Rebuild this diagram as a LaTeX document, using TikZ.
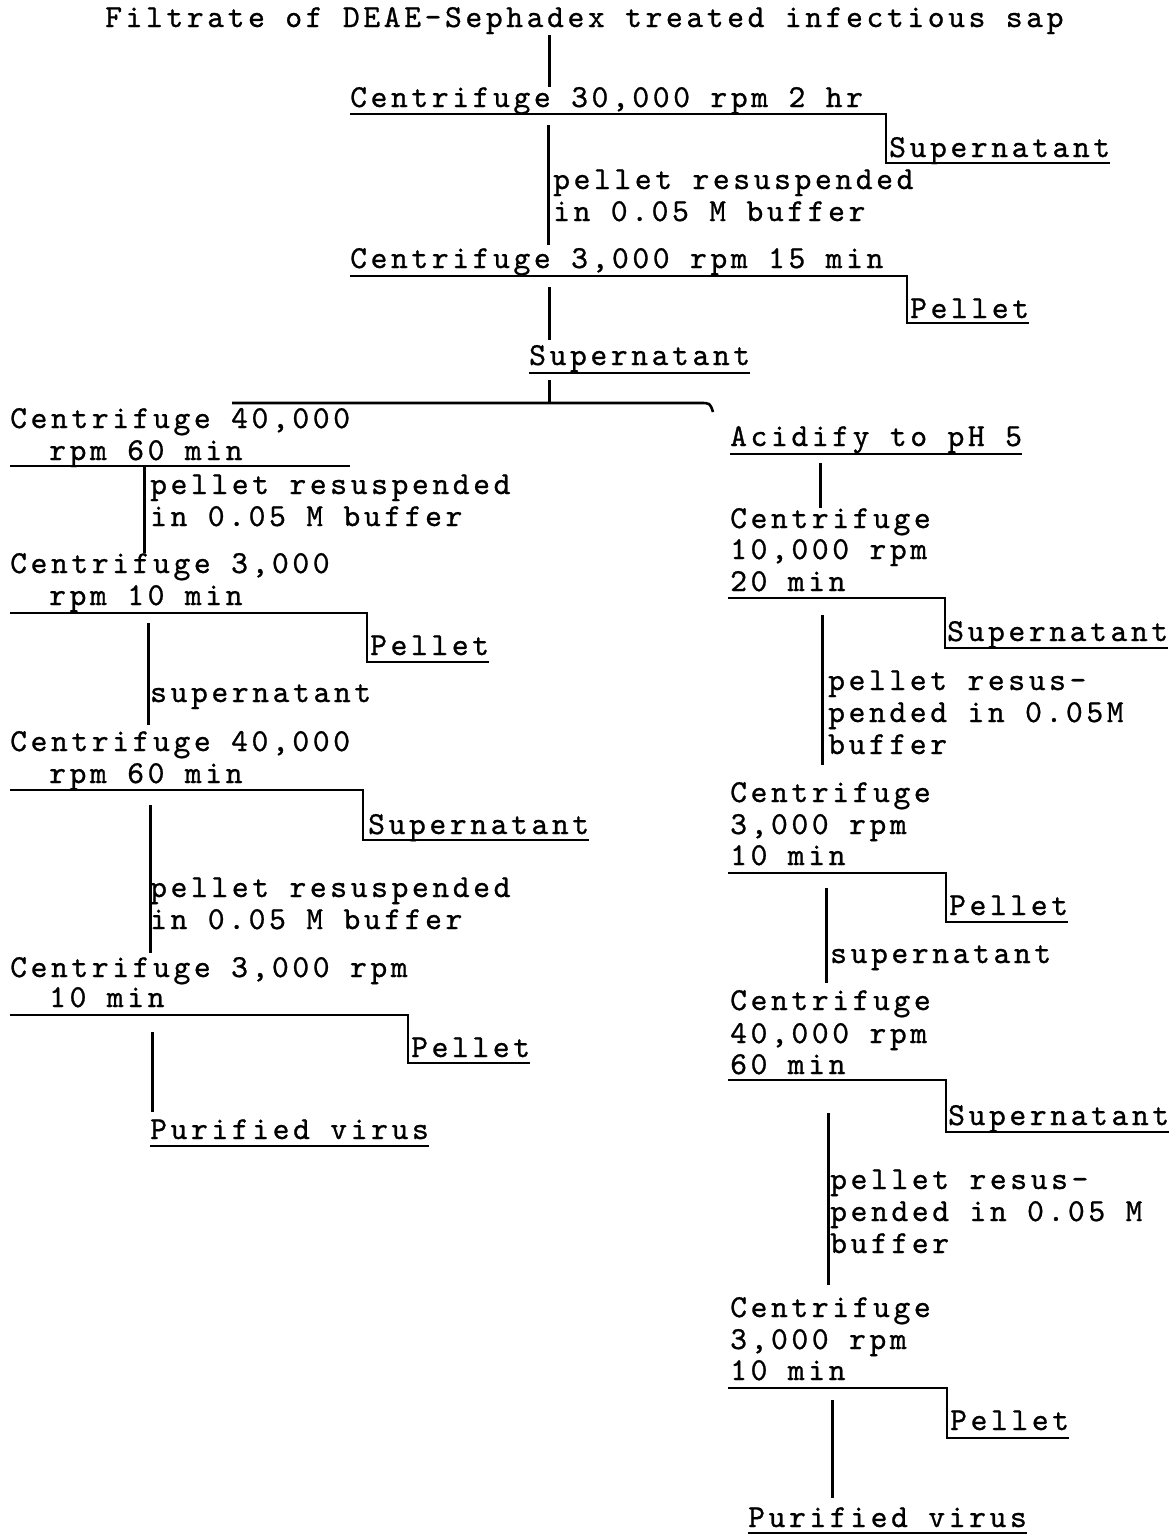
\documentclass[tikz,border=0pt]{standalone}
\usepackage{fontspec}
\newfontfamily\tw{lmmono10-regular.otf}[LetterSpace=11.3,FakeBold=0.8]
\begin{document}
\begin{tikzpicture}[x=1pt,y=-1pt,
  lbl/.style={anchor=base west, inner sep=0pt, font=\tw\fontsize{32}{38}\selectfont},
  conn/.style={line width=3pt},
  uline/.style={line width=2.6pt, line join=miter}]
\fill[white] (0,0) rectangle (1175,1535);
\useasboundingbox (0,0) rectangle (1175,1535);

% ---------- trunk ----------
\node[lbl] (title) at (105,27) {Filtrate of DEAE-Sephadex treated infectious sap};
\node[lbl] (c1) at (350,107) {Centrifuge 30,000 rpm 2 hr};
\node[lbl] (s1) at (889,157) {Supernatant};
\node[lbl] (r1a) at (553,189) {pellet resuspended};
\node[lbl] (r1b) at (553,221) {in 0.05 M buffer};
\node[lbl] (c2) at (350,268) {Centrifuge 3,000 rpm 15 min};
\node[lbl] (p2) at (910,318) {Pellet};
\node[lbl] (s2) at (529,365) {Supernatant};

\draw[conn] (549,35) coordinate (k0a) -- (549,87) coordinate (k0b);
\draw[uline] ([yshift=-7pt]c1.base west) -| ([xshift=-3pt,yshift=-6pt]s1.base west) -- ([yshift=-6pt]s1.base east);
\draw[conn] (548,125) coordinate (k1a) -- (548,245) coordinate (k1b);
\draw[uline] ([yshift=-8pt]c2.base west) -| ([xshift=-3pt,yshift=-5pt]p2.base west) -- ([yshift=-5pt]p2.base east);
\draw[conn] (549,287) coordinate (k2a) -- (549,340) coordinate (k2b);
\draw[uline] ([yshift=-8pt]s2.base west) -- ([yshift=-8pt]s2.base east);
\draw[conn] (549,380) coordinate (k3a) -- (549,403) coordinate (k3b);
\draw[uline] (232,403) coordinate (brl) -- (700,403) .. controls (710,403) .. (713,412) coordinate (brr);

% ---------- left branch ----------
\node[lbl] (l1a) at (10,428) {Centrifuge 40,000};
\node[lbl] (l1b) at (49,460) {rpm 60 min};
\draw[uline] (10,466) -- ([yshift=-6pt]l1a.base east |- 0,460);
\draw[conn] (144,466) coordinate (k4a) -- (144,553) coordinate (k4b);
\node[lbl] (l1r1) at (150,494) {pellet resuspended};
\node[lbl] (l1r2) at (150,526) {in 0.05 M buffer};

\node[lbl] (l2a) at (10,573) {Centrifuge 3,000};
\node[lbl] (l2b) at (49,605) {rpm 10 min};
\node[lbl] (l2p) at (370,655) {Pellet};
\draw[uline] (10,613) -| ([xshift=-3pt,yshift=-7pt]l2p.base west) -- ([yshift=-7pt]l2p.base east);
\draw[conn] (148,623) coordinate (k5a) -- (148,725) coordinate (k5b);
\node[lbl] (l2s) at (150,702) {supernatant};

\node[lbl] (l3a) at (10,751) {Centrifuge 40,000};
\node[lbl] (l3b) at (49,783) {rpm 60 min};
\node[lbl] (l3s) at (368,834) {Supernatant};
\draw[uline] (10,790) -| ([xshift=-5pt,yshift=-6pt]l3s.base west) -- ([yshift=-6pt]l3s.base east);
\draw[conn] (150,805) coordinate (k6a) -- (150,953) coordinate (k6b);
\node[lbl] (l3r1) at (150,897) {pellet resuspended};
\node[lbl] (l3r2) at (150,929) {in 0.05 M buffer};

\node[lbl] (l4a) at (10,977) {Centrifuge 3,000 rpm};
\node[lbl] (l4b) at (49,1007) {10 min};
\node[lbl] (l4p) at (411,1057) {Pellet};
\draw[uline] (10,1015) -| ([xshift=-3pt,yshift=-6pt]l4p.base west) -- ([yshift=-6pt]l4p.base east);
\draw[conn] (152,1032) coordinate (k7a) -- (152,1112) coordinate (k7b);
\node[lbl] (lpv) at (150,1139) {Purified virus};
\draw[uline] ([yshift=-7pt]lpv.base west) -- ([yshift=-7pt]lpv.base east);

% ---------- right branch ----------
\node[lbl] (ra) at (730,446) {Acidify to pH 5};
\draw[uline] ([yshift=-8pt]ra.base west) -- ([yshift=-8pt]ra.base east);
\draw[conn] (820,463) coordinate (k8a) -- (820,508) coordinate (k8b);
\node[lbl] (rc1a) at (730,528) {Centrifuge};
\node[lbl] (rc1b) at (730,559) {10,000 rpm};
\node[lbl] (rc1c) at (730,591) {20 min};
\node[lbl] (rs1) at (947,641) {Supernatant};
\draw[uline] (728,598) -| ([xshift=-2pt,yshift=-7pt]rs1.base west) -- ([yshift=-7pt]rs1.base east);
\draw[conn] (822,615) coordinate (k9a) -- (822,765) coordinate (k9b);
\node[lbl] (rr1a) at (828,690) {pellet resus-};
\node[lbl] (rr1b) at (828,722) {pended in 0.05M};
\node[lbl] (rr1c) at (828,754) {buffer};

\node[lbl] (rc2a) at (730,802) {Centrifuge};
\node[lbl] (rc2b) at (730,834) {3,000 rpm};
\node[lbl] (rc2c) at (730,865) {10 min};
\node[lbl] (rp2) at (949,915) {Pellet};
\draw[uline] (728,873) -| ([xshift=-3pt,yshift=-7pt]rp2.base west) -- ([yshift=-7pt]rp2.base east);
\draw[conn] (826,888) coordinate (k10a) -- (826,983) coordinate (k10b);
\node[lbl] (rs2) at (830,963) {supernatant};

\node[lbl] (rc3a) at (730,1010) {Centrifuge};
\node[lbl] (rc3b) at (730,1043) {40,000 rpm};
\node[lbl] (rc3c) at (730,1074) {60 min};
\node[lbl] (rs3) at (948,1125) {Supernatant};
\draw[uline] (728,1080) -| ([xshift=-2pt,yshift=-7pt]rs3.base west) -- ([yshift=-7pt]rs3.base east);
\draw[conn] (828,1113) coordinate (k11a) -- (828,1285) coordinate (k11b);
\node[lbl] (rr3a) at (830,1189) {pellet resus-};
\node[lbl] (rr3b) at (830,1221) {pended in 0.05 M};
\node[lbl] (rr3c) at (830,1253) {buffer};

\node[lbl] (rc4a) at (730,1317) {Centrifuge};
\node[lbl] (rc4b) at (730,1349) {3,000 rpm};
\node[lbl] (rc4c) at (730,1380) {10 min};
\node[lbl] (rp4) at (950,1430) {Pellet};
\draw[uline] (728,1388) -| ([xshift=-3pt,yshift=-8pt]rp4.base west) -- ([yshift=-8pt]rp4.base east);
\draw[conn] (832,1400) coordinate (k12a) -- (832,1498) coordinate (k12b);
\node[lbl] (rpv) at (748,1527) {Purified virus};
\draw[uline] ([yshift=-6pt]rpv.base west) -- ([yshift=-6pt]rpv.base east);
\end{tikzpicture}
\end{document}
